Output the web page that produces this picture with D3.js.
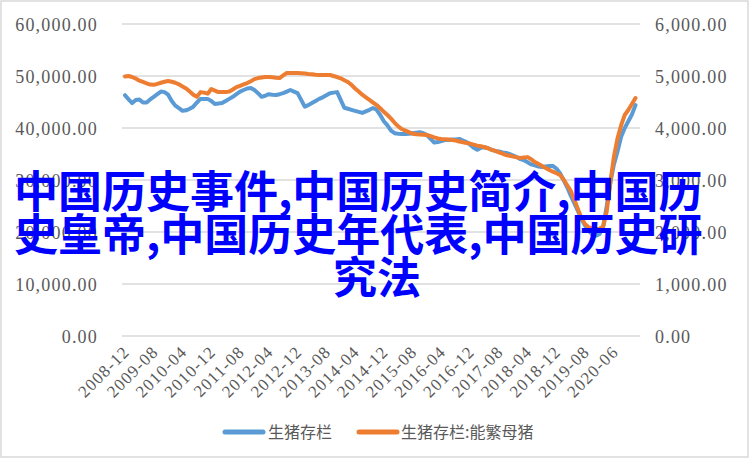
<!DOCTYPE html>
<html>
<head>
<meta charset="utf-8">
<script src="https://cdn.jsdelivr.net/npm/d3@7/dist/d3.min.js"></script>
<style>
  html, body { margin: 0; padding: 0; background: #ffffff; }
  svg { display: block; }
</style>
</head>
<body>
<svg id="chart" width="753" height="460"></svg>
<script>
// ---- data ----
const categories = [
  "2008-12",
  "2009-01","2009-02","2009-03","2009-04","2009-05","2009-06","2009-07","2009-08","2009-09","2009-10","2009-11","2009-12",
  "2010-01","2010-02","2010-03","2010-04","2010-05","2010-06","2010-07","2010-08","2010-09","2010-10","2010-11","2010-12",
  "2011-01","2011-02","2011-03","2011-04","2011-05","2011-06","2011-07","2011-08","2011-09","2011-10","2011-11","2011-12",
  "2012-01","2012-02","2012-03","2012-04","2012-05","2012-06","2012-07","2012-08","2012-09","2012-10","2012-11","2012-12",
  "2013-01","2013-02","2013-03","2013-04","2013-05","2013-06","2013-07","2013-08","2013-09","2013-10","2013-11","2013-12",
  "2014-01","2014-02","2014-03","2014-04","2014-05","2014-06","2014-07","2014-08","2014-09","2014-10","2014-11","2014-12",
  "2015-01","2015-02","2015-03","2015-04","2015-05","2015-06","2015-07","2015-08","2015-09","2015-10","2015-11","2015-12",
  "2016-01","2016-02","2016-03","2016-04","2016-05","2016-06","2016-07","2016-08","2016-09","2016-10","2016-11","2016-12",
  "2017-01","2017-02","2017-03","2017-04","2017-05","2017-06","2017-07","2017-08","2017-09","2017-10","2017-11","2017-12",
  "2018-01","2018-02","2018-03","2018-04","2018-05","2018-06","2018-07","2018-08","2018-09","2018-10","2018-11","2018-12",
  "2019-01","2019-02","2019-03","2019-04","2019-05","2019-06","2019-07","2019-08","2019-09","2019-10","2019-11","2019-12",
  "2020-03","2020-04","2020-05","2020-06","2020-07","2020-08","2020-09","2020-10","2020-11","2020-12"
];

const tickLabels = ["2008-12","2009-08","2010-04","2010-12","2011-08","2012-04","2012-12","2013-08","2014-04",
  "2014-12","2015-08","2016-04","2016-12","2017-08","2018-04","2018-12","2019-08","2020-06"];

// 生猪存栏 (left axis)
const hogInventory = [
  46300,45500,44800,45400,45500,44900,44900,45500,46000,46500,47000,46900,46400,45200,44300,43800,43300,43400,43700,44100,
  44900,45600,45600,45600,45200,44600,44700,44800,45200,45600,46000,46500,47000,47300,47600,47700,47300,46700,46000,46200,
  46500,46400,46350,46500,46700,47000,47300,47000,46700,45400,44100,44400,44800,45200,45600,45900,46300,46700,46800,46900,
  45400,43900,43700,43500,43300,43100,42900,43200,43500,43850,43500,42500,41300,40500,39500,39000,38900,38850,38850,38900,
  39000,39100,39200,39000,38650,37900,37200,37300,37500,37700,37700,37800,37800,37900,37600,37300,36800,36200,35800,36200,
  36300,36100,35800,35600,35500,35300,35200,35000,34700,34400,34000,33800,33400,33000,32800,32600,32500,32600,32700,32700,
  32200,31300,30000,28600,27000,25500,24000,22500,21200,20200,19500,19300,19600,21000,25000,29500,33000,35500,38300,40000,
  41300,42600,44400
];

// 生猪存栏:能繁母猪 (right axis)
const sowInventory = [
  4990,5000,4980,4950,4910,4885,4860,4835,4830,4850,4870,4890,4905,4890,4870,4840,4800,4760,4700,4640,
  4600,4690,4680,4660,4750,4720,4690,4690,4690,4700,4740,4785,4810,4840,4865,4900,4940,4960,4970,4980,
  4980,4975,4965,4960,5010,5058,5060,5060,5058,5055,5050,5040,5035,5025,5020,5020,5020,5020,5000,4980,
  4955,4920,4885,4830,4760,4700,4640,4590,4540,4490,4440,4380,4310,4250,4180,4100,4030,3980,3950,3920,
  3890,3880,3875,3870,3865,3845,3820,3800,3790,3785,3780,3770,3760,3740,3725,3710,3700,3680,3660,3650,
  3630,3610,3580,3560,3530,3505,3480,3465,3450,3435,3425,3435,3440,3400,3345,3310,3270,3230,3195,3160,
  3130,3095,3010,2900,2790,2620,2440,2260,2150,2090,2070,2060,2065,2100,2400,2950,3450,3800,4050,4250,
  4346,4460,4577
];

const seriesNames = ["生猪存栏", "生猪存栏:能繁母猪"];
const seriesColors = ["#5b9bd5", "#ed7d31"];
const leftTicks = [0, 10000, 20000, 30000, 40000, 50000, 60000];
const rightTicks = [0, 1000, 2000, 3000, 4000, 5000, 6000];
const overlayLines = ["中国历史事件,中国历史简介,中国历", "史皇帝,中国历史年代表,中国历史研", "究法"];

// ---- chart ----
const svg = d3.select("#chart");
const serif = "'Liberation Serif', 'DejaVu Serif', serif";
const cjk = "'Noto Sans CJK SC', 'Noto Sans', sans-serif";

const plot = { left: 122, right: 640, top: 24, bottom: 336 };

svg.append("rect")
  .attr("x", 1).attr("y", 1).attr("width", 747).attr("height", 456)
  .attr("fill", "#fff").attr("stroke", "#d9d9d9").attr("stroke-width", 1.5);

const x = d3.scaleLinear().domain([0, categories.length - 1]).range([125, 635.5]);
const yL = d3.scaleLinear().domain([0, 60000]).range([plot.bottom, plot.top]);
const yR = d3.scaleLinear().domain([0, 6000]).range([plot.bottom, plot.top]);

// gridlines
svg.append("g").selectAll("line").data(leftTicks).join("line")
  .attr("x1", plot.left).attr("x2", plot.right)
  .attr("y1", d => yL(d)).attr("y2", d => yL(d))
  .attr("stroke", "#d9d9d9").attr("stroke-width", 1.5);

// left axis
const gl = svg.append("g").attr("transform", "translate(98,0)")
  .call(d3.axisLeft(yL).tickValues(leftTicks).tickFormat(d3.format(",.2f")).tickSize(0).tickPadding(0));
gl.select(".domain").remove();
gl.selectAll("text").attr("font-family", serif).attr("font-size", 18).attr("fill", "#595959")
  .attr("letter-spacing", 1.2).attr("dy", "0.35em");

// right axis
const gr = svg.append("g").attr("transform", "translate(655,0)")
  .call(d3.axisRight(yR).tickValues(rightTicks).tickFormat(d3.format(",.2f")).tickSize(0).tickPadding(0));
gr.select(".domain").remove();
gr.selectAll("text").attr("font-family", serif).attr("font-size", 18).attr("fill", "#595959")
  .attr("letter-spacing", 1.2).attr("dy", "0.35em");

// x axis labels
const tickIdx = tickLabels.map(t => categories.indexOf(t));
const gx = svg.append("g").attr("transform", "translate(0," + plot.bottom + ")")
  .call(d3.axisBottom(x).tickValues(tickIdx).tickFormat(i => categories[i]).tickSize(0).tickPadding(0));
gx.select(".domain").remove();
gx.selectAll("text")
  .attr("font-family", serif).attr("font-size", 17).attr("fill", "#595959")
  .attr("letter-spacing", 1.1)
  .attr("text-anchor", "end").attr("dy", 0).attr("y", 0)
  .attr("transform", "translate(5,17) rotate(-45)");

// lines
const lineL = d3.line().x((d, i) => x(i)).y(d => yL(d)).curve(d3.curveLinear);
const lineR = d3.line().x((d, i) => x(i)).y(d => yR(d)).curve(d3.curveLinear);
svg.append("path").datum(hogInventory).attr("d", lineL)
  .attr("fill", "none").attr("stroke", seriesColors[0]).attr("stroke-width", 4)
  .attr("stroke-linejoin", "round").attr("stroke-linecap", "round");
svg.append("path").datum(sowInventory).attr("d", lineR)
  .attr("fill", "none").attr("stroke", seriesColors[1]).attr("stroke-width", 4)
  .attr("stroke-linejoin", "round").attr("stroke-linecap", "round");

// legend
const legendItems = [{ x: 223, tx: 268 }, { x: 357, tx: 401 }];
const lg = svg.append("g");
legendItems.forEach((it, k) => {
  lg.append("line").attr("x1", it.x + 2).attr("x2", it.x + 40).attr("y1", 432).attr("y2", 432)
    .attr("stroke", seriesColors[k]).attr("stroke-width", 5).attr("stroke-linecap", "round");
  lg.append("text").attr("x", it.tx).attr("y", 438).text(seriesNames[k])
    .attr("font-family", cjk).attr("font-size", 16).attr("fill", "#595959");
});

// overlay text
const ov = svg.append("g").attr("font-family", cjk).attr("font-weight", 700)
  .attr("font-size", 44).attr("fill", "#0000ff");
ov.append("text").attr("x", 14).attr("y", 208).text(overlayLines[0]);
ov.append("text").attr("x", 14).attr("y", 251).text(overlayLines[1]);
ov.append("text").attr("x", 377).attr("y", 294).attr("text-anchor", "middle").text(overlayLines[2]);
</script>
</body>
</html>
